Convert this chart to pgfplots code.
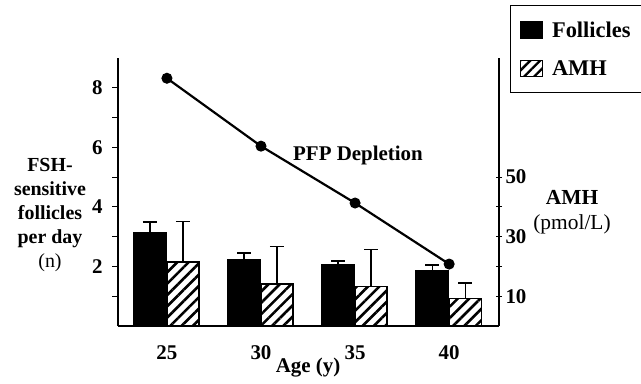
\documentclass[border=0pt]{standalone}
\usepackage{pgfplots}
\pgfplotsset{compat=1.18}
\usetikzlibrary{patterns.meta}
\usepackage{fontspec}
\setmainfont{Liberation Serif}
\begin{document}
\begin{tikzpicture}[x=1bp,y=1bp,font=\fontsize{21}{24}\selectfont]
\useasboundingbox (0,0) rectangle (641,383);
\pgfplotsset{
  base/.style={
    at={(118bp,57bp)}, anchor=south west,
    width=381bp, height=268bp, scale only axis,
    xmin=-0.52, xmax=3.53,
    /pgf/number format/assume math mode=true,
    ticklabel style={font=\fontsize{21}{24}\selectfont\bfseries},
    axis line style={line width=1.4pt, black},
    major tick length=6bp, minor tick length=6bp,
    tick style={line width=1.2pt, black},
    clip=false,
  }
}
\begin{axis}[base,
  axis y line*=left, axis x line*=bottom,
  ymin=0, ymax=9, ytick={2,4,6,8}, minor ytick={1,3,5,7},
  tick align=outside,
  yticklabel style={xshift=-6bp},
  xtick={0,1,2,3}, xticklabels={25,30,35,40},
  xtick style={draw=none},
  xticklabel style={yshift=-10bp},
]
\addplot[ybar, bar width=0.355, bar shift=0, fill=black, draw=black, line width=1pt,
  error bars/.cd, y dir=plus, y explicit,
  error bar style={line width=1.3pt, black},
  error mark options={rotate=90, mark size=7bp, line width=1.3pt, black}]
  coordinates {(-0.18,3.15) +- (0,0.34) (0.82,2.25) +- (0,0.20) (1.82,2.08) +- (0,0.10) (2.82,1.88) +- (0,0.17)};
\addplot[black, line width=2.2pt, mark=*, mark size=5bp, mark options={fill=black, line width=1pt}]
  coordinates {(0,8.32) (1,6.04) (2,4.13) (3,2.08)};
\end{axis}
\begin{axis}[base,
  axis y line*=right, axis x line=none,
  ymin=0, ymax=90, ytick={10,30,50}, minor ytick={20,40},
  tick align=center,
  legend style={at={(1.029,1.198)}, anchor=north west, draw=black, line width=1.2pt,
    inner xsep=9bp, inner ysep=14bp, row sep=18bp,
    font=\fontsize{22.5}{26}\selectfont\bfseries, cells={anchor=west},
    /tikz/every odd column/.append style={column sep=6bp}},
]
\addlegendimage{legend image code/.code={\fill[black] (0bp,-8bp) rectangle (22bp,8bp);}}
\addlegendentry{Follicles}
\addplot[ybar, bar width=0.34, bar shift=0, draw=black, line width=1.2pt,
  pattern={Lines[angle=45, distance=8bp, line width=2.6bp]},
  legend image code/.code={\draw[black, line width=1.2pt, pattern={Lines[angle=45, distance=7bp, line width=2.4bp]}] (0bp,-8bp) rectangle (22bp,8bp);},
  error bars/.cd, y dir=plus, y explicit,
  error bar style={line width=1.3pt, black},
  error mark options={rotate=90, mark size=7bp, line width=1.3pt, black}]
  coordinates {(0.17,21.5) +- (0,13.7) (1.17,14.1) +- (0,12.7) (2.17,13.4) +- (0,12.4) (3.17,9.2) +- (0,5.2)};
\addlegendentry{AMH}
\end{axis}
\node[align=center, font=\fontsize{20}{24}\selectfont] at (50,168)
  {\textbf{FSH-}\\\textbf{sensitive}\\\textbf{follicles}\\\textbf{per day}\\(n)};
\node[align=center, font=\fontsize{21.5}{25}\selectfont] at (572,170.5) {\textbf{AMH}\\(pmol/L)};
\node[font=\fontsize{21}{24}\selectfont\bfseries] at (358,228) {PFP Depletion};
\node[font=\fontsize{21}{24}\selectfont\bfseries] at (308,15) {Age (y)};
\end{tikzpicture}
\end{document}
